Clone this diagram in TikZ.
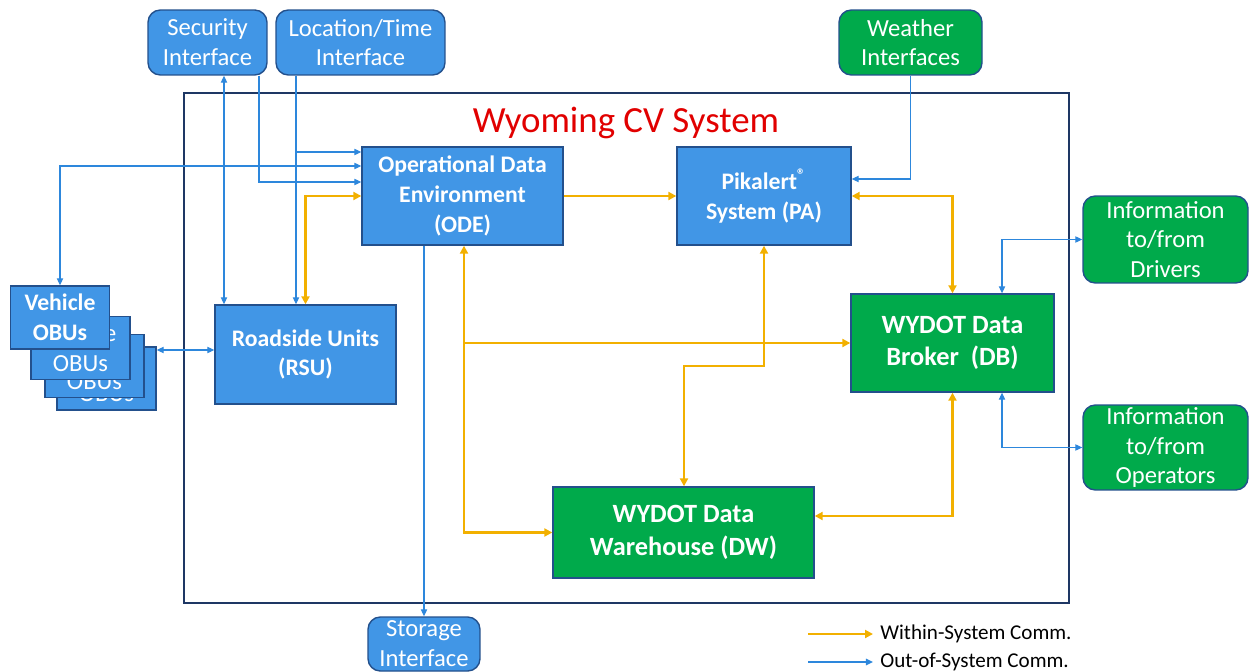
\documentclass[tikz,border=0pt]{standalone}
\usepackage{fontspec}
\setmainfont{Carlito}
\usepackage{tikz}
\usetikzlibrary{arrows.meta,calc}

\definecolor{boxblue}{RGB}{65,150,230}
\definecolor{boxgreen}{RGB}{0,170,75}
\definecolor{edgeblue}{RGB}{35,80,140}
\definecolor{framenavy}{RGB}{30,55,100}
\definecolor{linkblue}{RGB}{45,135,220}
\definecolor{linkgold}{RGB}{242,176,0}
\definecolor{titlered}{RGB}{225,0,0}

\tikzset{
  blk/.style={draw=edgeblue, line width=0.8pt, text=white, align=center, inner sep=1pt,
    font=\fontsize{13.5}{17}\selectfont\bfseries},
  sysbox/.style={blk, fill=boxblue},
  wydbox/.style={blk, fill=boxgreen, font=\fontsize{15}{18.5}\selectfont\bfseries},
  ifcbox/.style={blk, rounded corners=7pt, font=\fontsize{14}{17}\selectfont},
  obubox/.style={blk, fill=boxblue, minimum width=1.98cm, minimum height=1.26cm},
  outc/.style={draw=linkblue, line width=0.6pt, >={Triangle[length=4pt,width=3.6pt]}},
  inc/.style={draw=linkgold, line width=1.4pt, >={Triangle[length=4.5pt,width=4.5pt]}},
  lgtxt/.style={anchor=west, inner sep=4pt, font=\fontsize{12}{14}\selectfont}
}

\begin{document}
\begin{tikzpicture}[x=0.02cm,y=-0.02cm]
  \useasboundingbox (0,0) rectangle (1250,672);
  % system frame
  \draw[framenavy, line width=1.1pt] (184,93) rectangle (1069,603);
  \node[titlered, font=\fontsize{21}{25}\selectfont] (ttl) at (626,123) {Wyoming CV System};

  % interfaces outside the system
  \node[ifcbox, fill=boxblue, minimum width=2.38cm, minimum height=1.30cm] (sec) at (207.5,42.5) {Security\\Interface};
  \node[ifcbox, fill=boxblue, minimum width=3.38cm, minimum height=1.30cm] (loc) at (360.5,42.5) {Location/Time\\Interface};
  \node[ifcbox, fill=boxgreen, minimum width=2.86cm, minimum height=1.30cm] (wea) at (910.5,42.5) {Weather\\Interfaces};
  \node[ifcbox, fill=boxgreen, minimum width=3.30cm, minimum height=1.74cm] (drv) at (1165.5,239.5) {Information\\to/from\\Drivers};
  \node[ifcbox, fill=boxgreen, minimum width=3.30cm, minimum height=1.70cm] (opr) at (1165.5,447.5) {Information\\to/from\\Operators};
  \node[ifcbox, fill=boxblue, minimum width=2.24cm, minimum height=1.08cm] (sto) at (424,644) {Storage\\Interface};

  % vehicle stack
  \foreach \cx/\cy/\nm in {106.5/378.5/obu4, 94.5/366/obu3, 80.5/348/obu2}
    { \node[obubox, font=\fontsize{14}{17}\selectfont] (\nm) at (\cx,\cy) {Vehicle\\OBUs}; }
  \node[obubox] (obu1) at (60,317.5) {Vehicle\\OBUs};

  % system components
  \node[sysbox, minimum width=4.02cm, minimum height=1.96cm] (ode) at (462.5,196) {Operational Data\\Environment\\(ODE)};
  \node[sysbox, minimum width=3.48cm, minimum height=1.96cm] (pa) at (764,196) {Pikalert\textsuperscript{\textregistered}\\System (PA)};
  \node[sysbox, minimum width=3.62cm, minimum height=1.98cm] (rsu) at (305.5,354.5) {Roadside Units\\(RSU)};
  \node[wydbox, minimum width=4.06cm, minimum height=1.96cm] (db) at (952.5,343) {WYDOT Data\\Broker\ \ (DB)};
  \node[wydbox, minimum width=5.22cm, minimum height=1.82cm] (dw) at (683.5,532.5) {WYDOT Data\\Warehouse (DW)};

  % routing columns and rows
  \coordinate (k1) at (224,152);
  \coordinate (k2) at (259,166);
  \coordinate (k3) at (296,182);
  \coordinate (k4) at (464,350);
  \coordinate (k5) at (684,366);
  \coordinate (k6) at (1002,179);
  \coordinate (k7) at (0,516);

  % out-of-system links
  \draw[outc,<->] (sec.south -| k1) -- (rsu.north -| k1);
  \draw[outc,->] (sec.south -| k2) |- (ode.west |- k3);
  \draw[outc,->] (loc.south -| k3) -- (rsu.north -| k3);
  \draw[outc,->] (loc.south -| k3) |- (ode.west |- k1);
  \draw[outc,<->] (obu1.north) |- (ode.west |- k2);
  \draw[outc,<->] (obu4.east |- k4) -- (rsu.west |- k4);
  \draw[outc,->] (ode.south -| sto.north) -- (sto.north);
  \draw[outc,->] (wea.south) |- (pa.east |- k6);
  \draw[outc,<->] (db.north -| k6) |- (drv.west);
  \draw[outc,<->] (db.south -| k6) |- (opr.west);

  % within-system links
  \draw[inc,->] (ode.east) -- (pa.west);
  \draw[inc,<->] (pa.east) -| (db.north);
  \draw[inc,<->] (ode.west) -| (rsu.north);
  \draw[inc,<->] (ode.south -| k4) |- (dw.west);
  \draw[inc,->] (k4 |- db.west) -- (db.west);
  \draw[inc,<->] (pa.south) |- (k5) -- (dw.north -| k5);
  \draw[inc,<->] (db.south) |- (dw.east |- k7);

  % legend
  \node[lgtxt] (lgin) at (873,634) {Within-System Comm.};
  \node[lgtxt] (lgout) at (873,662) {Out-of-System Comm.};
  \coordinate (lg1) at (808,634);
  \coordinate (lg2) at (808,662);
  \draw[inc,->, line width=1.2pt] (lg1) -- (lgin.west);
  \draw[outc,->, line width=1.2pt] (lg2) -- (lgout.west);
\end{tikzpicture}
\end{document}
